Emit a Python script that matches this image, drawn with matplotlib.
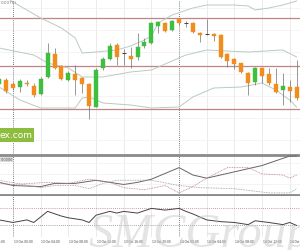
import matplotlib.pyplot as plt
import matplotlib.transforms as mtransforms
from matplotlib.patches import Rectangle

# hourly candles, 12 Oct 22:00 .. 14 Oct 17:00
opens  = [66, 70, 66, 63, 67, 64, 56, 73, 96, 84, 70, 76, 72, 66, 43, 82, 91, 105, 97, 94, 93, 104,
          107, 124, 127, 120, 131, 127, 127, 117, 116, 116, 115, 96, 91, 87, 77, 68, 82, 76, 66, 60, 63, 63]
closes = [71, 59, 62, 69, 66, 55, 71, 97, 82, 71, 77, 70, 66, 44, 80, 91, 104, 93, 97, 91, 103, 108,
          127, 128, 119, 129, 127, 127, 118, 115, 116, 114, 93, 89, 86, 78, 67, 82, 74, 67, 58, 64, 59, 52]
highs  = [74, 72, 68, 71, 70, 67, 73, 107, 102, 85, 79, 85, 73, 67, 82, 93, 107, 107, 101, 103, 117, 112,
          128, 129, 128, 130, 132, 129, 128, 118, 131, 117, 116, 97, 92, 87, 78, 83, 82, 82, 82, 77, 70, 90]
lows   = [62, 57, 60, 58, 64, 53, 55, 72, 81, 70, 69, 55, 57, 31, 43, 80, 90, 85, 85, 82, 90, 102,
          106, 117, 118, 119, 125, 123, 117, 108, 115, 109, 92, 83, 81, 77, 55, 65, 67, 65, 57, 45, 48, 50]

# bollinger bands (read at some candles)
upper_idx = [0, 2, 4, 6, 9, 11, 12, 14, 17, 19, 21, 22, 23, 25, 28, 30, 34, 36, 37, 39, 41, 43]
upper_val = [158, 148, 140, 132, 122, 112, 97, 98, 100, 104, 110, 114, 127, 135, 142, 145, 145, 144, 140, 142, 145, 149]
mid_idx = [0, 5, 7, 10, 12, 15, 19, 22, 27, 30, 36, 41, 43]
mid_val = [102, 95, 87, 82, 73, 73, 78, 80, 95, 100, 98, 100, 93]
lower_idx = [0, 3, 6, 11, 12, 13, 15, 19, 22, 26, 28, 31, 35, 38, 40, 42, 43]
lower_val = [63, 50, 42, 42, 52, 53, 47, 45, 42, 43, 53, 62, 63, 67, 60, 50, 43]
levels = [132, 84, 41]

# ADX panel
adx_idx = [0, 2, 6, 8, 11, 14, 16, 18, 20, 22, 26, 28, 30, 34, 38, 42, 43]
adx_val = [18, 15, 14, 17, 17, 20, 18, 16, 18, 21, 32, 25, 22, 28, 34, 43, 43]
mdi_idx = [0, 2, 7, 10, 13, 16, 18, 21, 24, 26, 28, 30, 33, 36, 38, 41, 42, 43]
mdi_val = [17, 16, 18, 17, 21, 18, 13, 11, 15, 8, 14, 22, 32, 32, 26, 25, 22, 25]
pdi_idx = [0, 6, 8, 11, 13, 15, 17, 22, 26, 29, 34, 39, 42, 43]
pdi_val = [20, 13, 15, 15, 12, 17, 20, 20, 15, 13, 12, 8, 8, 12]

# RSI panel
rsi_idx = [0, 2, 4, 5, 7, 9, 10, 12, 13, 14, 16, 17, 18, 20, 22, 24, 26, 27, 28, 30, 32, 34, 36, 37, 39, 41, 42, 43]
rsi_val = [43, 37, 43, 37, 63, 52, 48, 43, 37, 54, 63, 59, 63, 59, 70, 66, 70, 63, 57, 43, 39, 37, 32, 41, 37, 32, 37, 30]

tick_labels = ['12 Oct 20:00', '13 Oct 00:00', '13 Oct 04:00', '13 Oct 08:00', '13 Oct 12:00', '13 Oct 16:00',
               '13 Oct 20:00', '14 Oct 00:00', '14 Oct 04:00', '14 Oct 08:00', '14 Oct 12:00', '14 Oct 16:00']
tick_pos = [-2 + 4 * k for k in range(len(tick_labels))]

W, H = 300, 250
fig = plt.figure(figsize=(3, 2.5), dpi=100)

def px_axes(top, bottom):
    return fig.add_axes([0, 1 - bottom / H, 1, (bottom - top) / H])

ax1 = px_axes(0, 154)
ax2 = px_axes(155, 195)
ax3 = px_axes(196, 237)

for ax in (ax1, ax2, ax3):
    ax.set_xlim(0.12, 43.49)
    ax.set_xticks([])
    ax.set_yticks([])
    for s in ax.spines.values():
        s.set_visible(False)
    for p, lab in zip(tick_pos, tick_labels):
        if lab.endswith('00:00'):
            ax.axvline(p, color='#555555', lw=0.6, ls=(0, (1, 1.5)), zorder=1)
        else:
            ax.axvline(p, color='#e8e8e8', lw=0.6, zorder=0)

# main panel
ax1.set_ylim(-4, 150)
for y in range(10, 150, 22):
    ax1.axhline(y, color='#f0f0f0', lw=0.5, zorder=0)
for lv in levels:
    ax1.axhline(lv, color='#c08686', lw=0.9, zorder=1)
for bx, bv in ((upper_idx, upper_val), (mid_idx, mid_val), (lower_idx, lower_val)):
    ax1.plot(bx, bv, color='#b9cbc0', lw=0.7, zorder=2)
for i in range(len(opens)):
    o, c = opens[i], closes[i]
    col = '#3fbf3f' if c > o else '#f28c1c'
    ax1.vlines(i, lows[i], highs[i], color='#707070', lw=0.5, zorder=3)
    if o == c:
        ax1.hlines(o, i - 0.3, i + 0.3, color='#404040', lw=0.7, zorder=4)
    else:
        ax1.bar(i, abs(c - o), bottom=min(o, c), width=0.58, color=col,
                edgecolor=col, lw=0.3, zorder=4)
ax1.text(0.3, 147, '0.0070)', fontsize=3, color='#777777', va='center')

# ADX panel
ax2.set_ylim(6, 44)
for s in ('top', 'bottom'):
    ax2.spines[s].set_visible(True)
    ax2.spines[s].set_color('#8a8a8a')
    ax2.spines[s].set_linewidth(2)
for y in (16, 26, 36):
    ax2.axhline(y, color='#f0f0f0', lw=0.5, zorder=0)
ax2.plot(adx_idx, adx_val, color='#666666', lw=0.7, zorder=3)
ax2.plot(mdi_idx, mdi_val, color='#c07a7a', lw=0.6, ls=(0, (1, 1)), zorder=3)
ax2.plot(pdi_idx, pdi_val, color='#999999', lw=0.6, ls=(0, (1, 1)), zorder=3)
ax2.text(0.2, 39.5, '0.0000', fontsize=2.5, color='#555555', va='center',
         bbox=dict(facecolor='#dddddd', edgecolor='none', pad=0.3))

# RSI panel
ax3.set_ylim(3, 99)
ax3.axhline(70, color='#c07a7a', lw=0.6, ls=(0, (1, 1.5)), zorder=1)
ax3.axhline(30, color='#888888', lw=0.6, ls=(0, (1, 1.5)), zorder=1)
ax3.plot(rsi_idx, rsi_val, color='#444444', lw=0.7, zorder=3)

trans = mtransforms.blended_transform_factory(ax3.transData, fig.transFigure)
for p, lab in zip(tick_pos, tick_labels):
    ax3.text(p + 0.1, 1 - 242 / H, lab, transform=trans, fontsize=2.1, color='#333333',
             ha='left', va='center', clip_on=False)

# green badge
fig.patches.append(Rectangle((0, 1 - 142 / H), 34 / W, 14 / H, transform=fig.transFigure,
                             facecolor='#8dbd3c', edgecolor='none', zorder=10))
fig.text(33 / W, 1 - 135 / H, 'ex.com', fontsize=6.5, color='white', ha='right', va='center', zorder=11)

# watermark
fig.text(88 / W, 1 - 247 / H, 'SMCGroup', fontsize=35, fontstyle='italic', family='Liberation Serif',
         color='#c4c4c4', alpha=0.45, ha='left', va='baseline', zorder=20)

fig.savefig('out.png', dpi=100)
